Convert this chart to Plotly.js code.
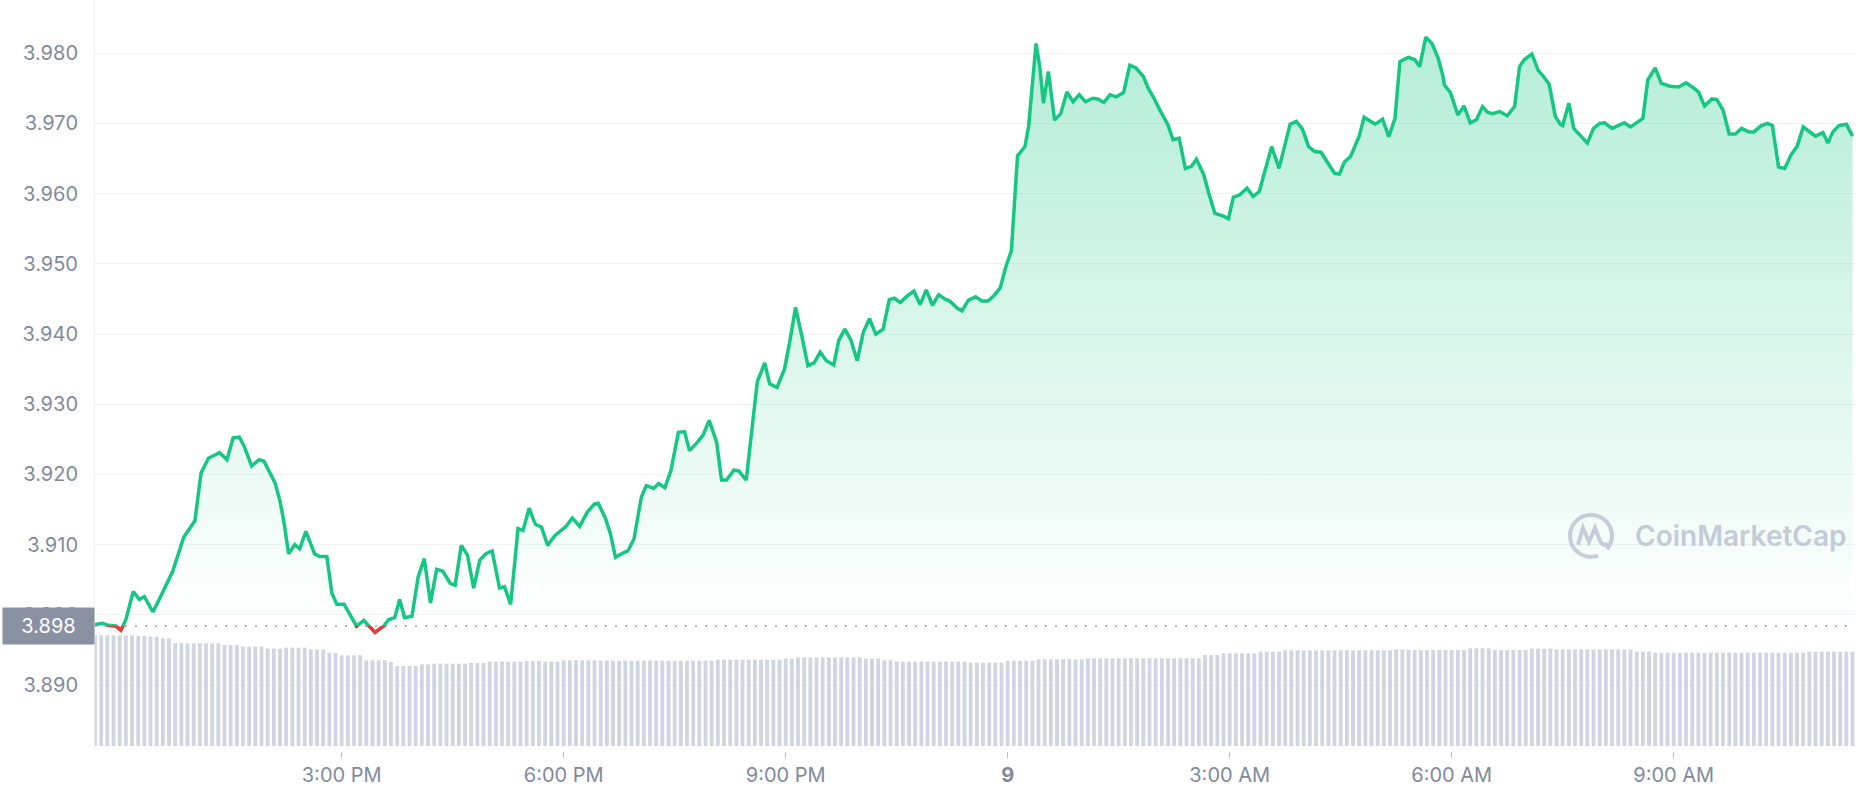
<!DOCTYPE html>
<html>
<head>
<meta charset="utf-8">
<script src="https://cdn.plot.ly/plotly-3.0.1.min.js"></script>
<style>
  html, body { margin: 0; padding: 0; background: #ffffff; }
  #chart { width: 1858px; height: 800px; }
</style>
</head>
<body>
<div id="chart"></div>
<script>
// ---- DATA ----
// minutes after 11:40 AM (day 8) for each price sample
const minutes = [
  0,6,11,17,21,25,31,36,40,47,54,63,72,81,86,92,101,107,112,117,121,127,133,137,146,150,153,157,162,166,
  171,178,182,188,192,196,202,212,218,227,234,238,243,247,251,257,262,267,272,277,282,288,292,297,302,307,312,317,322,328,
  332,337,343,347,352,357,362,367,373,382,387,393,399,405,408,414,418,422,428,432,437,
  443,447,453,457,462,467,473,478,482,488,493,498,504,508,512,518,522,528,533,537,543,547,553,559,563,568,573,578,583,588,
  593,599,603,608,613,618,623,628,633,639,644,648,653,659,664,669,674,679,684,689,693,699,703,708,714,719,724,729,734,738,743,
  748,750,754,757,759,763,766,769,773,778,783,788,793,798,803,809,813,818,823,828,834,839,844,850,854,858,864,870,874,879,
  884,889,893,899,903,908,915,919,923,928,934,939,944,950,954,960,964,969,974,979,984,989,994,999,1005,1009,1013,1018,1022,1025,
  1029,1034,1038,1044,1049,1054,1058,1061,1065,1070,1074,1079,1084,1089,1093,1094,1099,1105,1110,1115,1120,1125,1129,1133,1139,1145,1151,1155,1159,1165,
  1170,1174,1179,1184,1188,1190,1195,1199,1204,1210,1215,1220,1224,1230,1235,1240,1245,1250,1255,1259,1265,1270,1277,1284,1290,1295,1300,1305,1311,1315,
  1320,1325,1330,1335,1341,1345,1351,1356,1360,1365,1370,1375,1380,1385,1390,1395,1401,1405,1409,1414,1420,1425
];
const prices = [
  3.8986,3.8988,3.8985,3.8984,3.8978,3.8993,3.9033,3.9022,3.9026,3.9004,3.9029,3.9062,3.9111,3.9134,3.9202,3.9223,3.9231,3.9221,3.9252,3.9253,3.9240,3.9212,3.9221,3.9219,3.9188,3.9162,3.9134,3.9087,3.9100,3.9094,
  3.9119,3.9087,3.9083,3.9083,3.9031,3.9015,3.9015,3.8984,3.8992,3.8975,3.8984,3.8993,3.8996,3.9022,3.8996,3.8998,3.9054,3.9080,3.9017,3.9065,3.9062,3.9045,3.9042,3.9099,3.9085,3.9038,3.9078,3.9087,3.9091,3.9038,
  3.9040,3.9015,3.9123,3.9120,3.9152,3.9129,3.9125,3.9099,3.9113,3.9126,3.9138,3.9126,3.9146,3.9158,3.9159,3.9137,3.9115,3.9082,3.9088,3.9091,3.9108,
  3.9168,3.9184,3.9180,3.9187,3.9181,3.9206,3.9260,3.9261,3.9234,3.9245,3.9256,3.9277,3.9246,3.9192,3.9192,3.9206,3.9205,3.9192,3.9267,3.9332,3.9359,3.9329,3.9324,3.9350,3.9386,3.9438,3.9398,3.9355,3.9359,3.9374,
  3.9362,3.9356,3.9391,3.9407,3.9391,3.9362,3.9403,3.9422,3.9400,3.9407,3.9449,3.9451,3.9445,3.9455,3.9461,3.9442,3.9463,3.9441,3.9456,3.9450,3.9447,3.9437,3.9433,3.9448,3.9453,3.9447,3.9447,3.9455,3.9466,3.9493,3.9519,
  3.9654,3.9658,3.9667,3.9696,3.9734,3.9814,3.9781,3.9729,3.9774,3.9705,3.9714,3.9745,3.9731,3.9741,3.9731,3.9736,3.9735,3.9730,3.9741,3.9738,3.9744,3.9783,3.9779,3.9767,3.9750,3.9738,3.9717,3.9698,3.9677,3.9679,
  3.9636,3.9639,3.9649,3.9627,3.9601,3.9572,3.9568,3.9564,3.9595,3.9598,3.9608,3.9596,3.9603,3.9643,3.9667,3.9636,3.9665,3.9699,3.9703,3.9692,3.9667,3.9660,3.9659,3.9645,3.9629,3.9628,3.9645,3.9653,3.9669,3.9682,
  3.9709,3.9703,3.9699,3.9706,3.9681,3.9707,3.9788,3.9791,3.9794,3.9791,3.9781,3.9823,3.9814,3.9793,3.9767,3.9755,3.9744,3.9712,3.9725,3.9701,3.9705,3.9724,3.9716,3.9714,3.9717,3.9711,3.9724,3.9781,3.9791,3.9799,
  3.9776,3.9768,3.9756,3.9710,3.9699,3.9697,3.9729,3.9693,3.9684,3.9672,3.9693,3.9700,3.9701,3.9693,3.9697,3.9701,3.9695,3.9701,3.9707,3.9762,3.9779,3.9757,3.9753,3.9752,3.9758,3.9752,3.9745,3.9725,3.9735,3.9734,
  3.9719,3.9685,3.9685,3.9693,3.9688,3.9688,3.9697,3.9700,3.9697,3.9638,3.9636,3.9655,3.9667,3.9695,3.9688,3.9682,3.9687,3.9672,3.9688,3.9697,3.9699,3.9682
];
const referencePrice = 3.8984;
const referenceLabel = "3.898";

// volume bars, one every 5 minutes from 11:40 AM
const volumeStepMinutes = 5;
const volumes = [
  33.2,33.2,33.2,33.2,33.2,33.2,33.2,33.0,33.0,32.8,32.8,32.3,32.3,30.8,30.8,30.8,30.8,30.8,30.8,30.8,
  30.8,30.3,30.3,30.3,29.8,29.8,29.8,29.8,29.2,29.2,29.2,29.5,29.5,29.5,29.5,29.0,29.0,29.0,28.0,28.0,
  27.2,27.2,27.2,27.2,25.7,25.7,25.7,25.7,25.2,24.0,24.0,24.0,24.0,24.5,24.5,24.7,24.7,24.7,24.7,24.7,
  24.7,24.9,24.9,24.9,25.3,25.3,25.3,25.3,25.3,25.3,25.5,25.5,25.5,25.3,25.3,25.3,25.7,25.7,25.7,25.7,
  25.7,25.7,25.6,25.6,25.6,25.6,25.6,25.6,25.6,25.6,25.6,25.6,25.6,25.6,25.6,25.6,25.6,25.6,25.6,25.6,
  25.6,25.9,25.9,25.9,25.9,25.9,25.9,25.9,25.9,25.9,25.9,25.9,26.2,26.2,26.6,26.6,26.6,26.6,26.6,26.6,
  26.6,26.6,26.6,26.6,26.6,26.2,26.2,26.2,25.7,25.7,25.3,25.3,25.3,25.3,25.3,25.3,25.3,25.3,25.3,25.3,
  25.3,25.3,25.0,25.0,25.0,25.0,25.0,25.0,25.6,25.6,25.6,25.6,25.6,26.0,26.0,26.0,26.0,26.0,26.0,26.0,
  26.0,26.3,26.3,26.3,26.3,26.3,26.3,26.3,26.3,26.3,26.3,26.3,26.3,26.3,26.3,26.3,26.3,26.3,26.3,26.3,
  27.3,27.3,27.3,27.8,27.8,27.8,27.8,27.8,27.8,28.3,28.3,28.3,28.3,28.7,28.7,28.7,28.7,28.7,28.7,28.7,
  28.7,28.7,28.7,28.7,28.7,28.7,28.7,28.7,28.7,28.7,28.7,29.0,29.0,28.8,28.8,28.8,28.8,28.8,28.8,28.8,
  28.8,28.8,28.8,29.3,29.3,29.3,29.3,28.8,28.8,28.8,28.8,28.8,28.8,29.2,29.2,29.2,29.2,29.0,29.0,29.0,
  29.0,29.0,29.0,29.0,29.0,29.0,29.0,29.0,29.0,29.0,28.3,28.3,28.3,28.0,28.0,28.0,28.0,28.0,28.0,28.0,
  28.0,28.0,28.0,28.0,28.0,28.0,28.0,28.0,28.0,28.0,28.0,28.0,28.0,28.0,28.0,28.0,28.0,28.0,28.3,28.3,
  28.3,28.3,28.3,28.3,28.3,28.3
];

const yTickValues = [3.89,3.90,3.91,3.92,3.93,3.94,3.95,3.96,3.97,3.98];
const yTickLabels = ["3.890","3.900","3.910","3.920","3.930","3.940","3.950","3.960","3.970","3.980"];
const xTickMinutes = [200,380,560,740,920,1100,1280];
const xTickLabels = ["3:00 PM","6:00 PM","9:00 PM","<b>9</b>","3:00 AM","6:00 AM","9:00 AM"];

// ---- helpers ----
function pad(n){ return (n < 10 ? "0" : "") + n; }
function ts(m){
  const tot = 11*60 + 40 + m;
  const d = 8 + Math.floor(tot / 1440);
  const r = ((tot % 1440) + 1440) % 1440;
  return "2022-12-" + pad(d) + " " + pad(Math.floor(r/60)) + ":" + pad(r % 60);
}

const xPrice = minutes.map(ts);
const xVol = volumes.map((v, i) => ts(i * volumeStepMinutes));

const Y_MIN = 3.8806, Y_MAX = 3.98759;
const X_RANGE = [ts(0), ts(1427)];
const refFrac = (referencePrice - Y_MIN) / (Y_MAX - Y_MIN);

const GREEN = "#16c784", RED = "#ea3943";
const GREY = "#808a9d";
const FONT = "Inter, 'Noto Sans', sans-serif";

const traces = [
  { // volume
    type: "bar", x: xVol, y: volumes, xaxis: "x", yaxis: "y2",
    marker: { color: "#cfd5e1", line: { width: 0 } },
    width: volumeStepMinutes * 60000 * 0.62, hoverinfo: "skip"
  },
  { // baseline for fill
    type: "scatter", mode: "lines", x: [xPrice[0], xPrice[xPrice.length-1]],
    y: [referencePrice, referencePrice], line: { width: 0, color: "rgba(0,0,0,0)" },
    hoverinfo: "skip", xaxis: "x", yaxis: "y"
  },
  { // price (green) with gradient fill
    type: "scatter", mode: "lines", x: xPrice, y: prices, xaxis: "x", yaxis: "y",
    line: { color: GREEN, width: 3.5, shape: "linear" },
    fill: "tonexty",
    fillgradient: {
      type: "vertical",
      start: referencePrice, stop: 3.982,
      colorscale: [[0, "rgba(22,199,132,0.0)"], [1, "rgba(22,199,132,0.32)"]]
    },
    hoverinfo: "skip"
  },
  { // price below reference, clipped by its own subplot
    type: "scatter", mode: "lines", x: xPrice, y: prices, xaxis: "x2", yaxis: "y3",
    line: { color: RED, width: 3.5 }, hoverinfo: "skip"
  }
];

// CoinMarketCap logo (decorative)
function logoPath(){
  const R = 21;
  let p = "";
  const a0 = -40, a1 = 290;
  for (let a = a0; a <= a1; a += 10) {
    const rad = a * Math.PI / 180;
    p += (a === a0 ? "M" : "L") + (R*Math.cos(rad)).toFixed(2) + "," + (R*Math.sin(rad)).toFixed(2);
  }
  p += " M-13,-9 L-8,8 L-2,-6 L4,8 L9,-5 Q12,-11 19,-8";
  return p;
}

const layout = {
  width: 1858, height: 800,
  margin: { l: 95, r: 3, t: 0, b: 49, pad: 0 },
  paper_bgcolor: "#ffffff", plot_bgcolor: "rgba(0,0,0,0)",
  showlegend: false, hovermode: false,
  font: { family: FONT, color: GREY, size: 20 },
  xaxis: {
    type: "date", range: X_RANGE, domain: [0, 1], anchor: "y",
    tickmode: "array", tickvals: xTickMinutes.map(ts), ticktext: xTickLabels,
    ticks: "outside", ticklen: 6, tickwidth: 1, tickcolor: "#b8bfcc",
    tickfont: { family: FONT, size: 20, color: GREY },
    showgrid: false, zeroline: false, showline: false, fixedrange: true
  },
  xaxis2: {
    type: "date", matches: "x", domain: [0, 1], anchor: "y3",
    visible: false, showgrid: false, zeroline: false
  },
  yaxis: {
    range: [Y_MIN, Y_MAX], domain: [0, 1], anchor: "x",
    tickmode: "array", tickvals: yTickValues, ticktext: yTickLabels,
    ticks: "", ticklabelstandoff: 12,
    tickfont: { family: FONT, size: 20, color: GREY },
    gridcolor: "#eff2f5", gridwidth: 1,
    showline: true, linecolor: "#eff2f5", linewidth: 1,
    zeroline: false, fixedrange: true
  },
  yaxis2: {
    overlaying: "y", range: [-1.5, 223.8], visible: false,
    showgrid: false, zeroline: false
  },
  yaxis3: {
    domain: [0, refFrac], range: [Y_MIN, referencePrice], anchor: "x2",
    visible: false, showgrid: false, zeroline: false
  },
  shapes: [
    {
      type: "line", layer: "below", xref: "paper", x0: 0, x1: 1,
      yref: "y", y0: referencePrice, y1: referencePrice,
      line: { color: "#9aa1b1", width: 1.5, dash: "2px,8px" }
    },
    {
      type: "path", layer: "above",
      xref: "paper", yref: "paper",
      xsizemode: "pixel", ysizemode: "pixel",
      xanchor: 0.85, yanchor: 0.2865,
      path: logoPath(),
      line: { color: "rgba(190,197,212,0.85)", width: 4 }
    }
  ],
  annotations: [
    {
      xref: "paper", x: 0, xanchor: "right", yref: "y", y: referencePrice, yanchor: "middle",
      text: referenceLabel, showarrow: false,
      bgcolor: "#8a91a3", width: 89, height: 34, align: "center", valign: "middle",
      font: { family: FONT, size: 20, color: "#ffffff" }
    },
    {
      xref: "paper", x: 0.8739, xanchor: "left", yref: "paper", y: 0.2865, yanchor: "middle",
      text: "CoinMarketCap", showarrow: false,
      font: { family: FONT, size: 28, color: "rgba(190,197,212,0.9)", weight: 600 }
    }
  ]
};

Plotly.newPlot("chart", traces, layout, { displayModeBar: false, staticPlot: true });
</script>
</body>
</html>
